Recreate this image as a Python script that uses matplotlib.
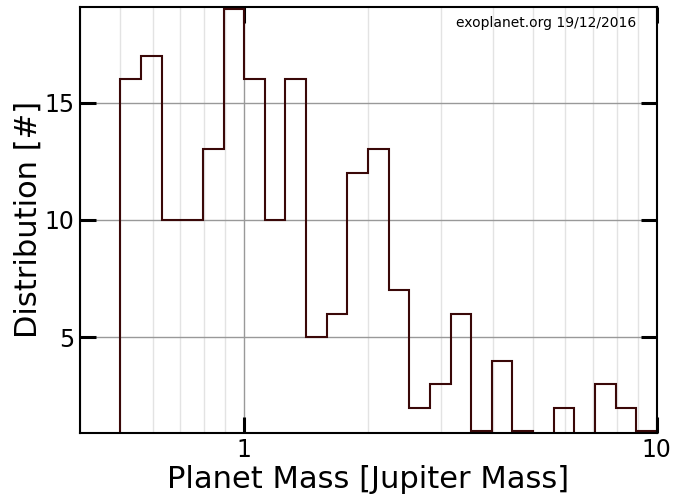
import numpy as np
import matplotlib
matplotlib.use("Agg")
import matplotlib.pyplot as plt
from matplotlib.ticker import LogLocator, NullFormatter, FixedLocator, FixedFormatter

# Histogram of planet masses, bins of 0.05 dex starting at log10(M) = -0.3
log_start = -0.30
log_width = 0.05
counts = [16, 17, 10, 10, 13, 19, 16, 10, 16, 5, 6, 12, 13,
          7, 2, 3, 6, 1, 4, 1, 0, 2, 0, 3, 2, 1]

x_ticks = [1, 10]
x_tick_labels = ["1", "10"]
y_ticks = [5, 10, 15]

edges = 10 ** (log_start + log_width * np.arange(len(counts) + 1))

fig = plt.figure(figsize=(6.73, 5.0), dpi=100)
ax = fig.add_axes([0.1189, 0.1346, 0.8571, 0.8514])

ax.stairs(counts, edges, color="#3a0808", linewidth=1.5, baseline=0)

ax.set_xscale("log")
ax.set_xlim(0.4, 10)
ax.set_ylim(0.93, 19.07)

ax.xaxis.set_major_locator(FixedLocator(x_ticks))
ax.xaxis.set_major_formatter(FixedFormatter(x_tick_labels))
ax.xaxis.set_minor_locator(LogLocator(base=10, subs=np.arange(2, 10)))
ax.xaxis.set_minor_formatter(NullFormatter())
ax.set_yticks(y_ticks)

ax.grid(True, which="major", color="#999999", linewidth=1.0)
ax.grid(True, which="minor", axis="x", color="#e3e3e3", linewidth=1.0)
ax.set_axisbelow(True)

ax.tick_params(which="major", direction="in", length=11.5, width=2.2,
               top=True, right=True, labelsize=17, pad=4)
ax.tick_params(which="minor", length=0)
for sp in ax.spines.values():
    sp.set_linewidth(1.5)

ax.set_xlabel("Planet Mass [Jupiter Mass]", fontsize=22, labelpad=2)
ax.set_ylabel("Distribution [#]", fontsize=22, labelpad=1)

ax.text(0.965, 0.978, "exoplanet.org 19/12/2016", transform=ax.transAxes,
        ha="right", va="top", fontsize=10)

fig.savefig("out.png", dpi=100)
